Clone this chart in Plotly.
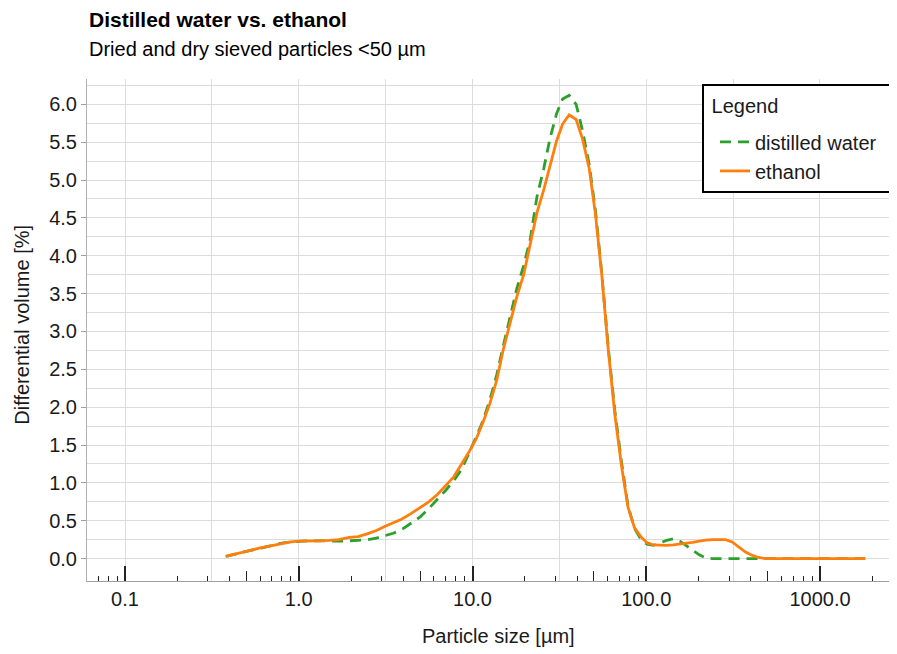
import plotly.graph_objects as go

# particle size bins [µm]
particle_size = [
    0.38, 0.45, 0.52, 0.6, 0.7, 0.8, 0.9, 1.0, 1.15, 1.3, 1.5, 1.7, 1.95,
    2.2, 2.5, 2.8, 3.1, 3.5, 3.9, 4.4, 5.0, 5.6, 6.3, 7.0, 7.8, 8.6, 9.5,
    10.5, 11.5, 12.6, 13.8, 15.0, 16.4, 18.0, 19.7, 21.5, 23.5, 25.7, 28.0,
    30.5, 33.0, 36.0, 39.5, 43.0, 47.0, 51.0, 55.5, 60.5, 66.0, 72.0, 78.5,
    85.5, 93.0, 101, 110, 120, 131, 143, 156, 170, 185, 202, 220, 240, 262,
    286, 312, 340, 371, 405, 442, 482, 526, 600, 800, 1100, 1500, 1820,
]

# differential volume [%]
distilled_water = [
    0.03, 0.07, 0.11, 0.145, 0.18, 0.205, 0.22, 0.23, 0.235, 0.235, 0.23,
    0.23, 0.235, 0.24, 0.25, 0.27, 0.30, 0.335, 0.38, 0.46, 0.55, 0.66,
    0.78, 0.90, 1.03, 1.17, 1.38, 1.60, 1.82, 2.10, 2.43, 2.80, 3.18, 3.57,
    3.87, 4.22, 4.78, 5.15, 5.56, 5.88, 6.07, 6.12, 6.00, 5.65, 5.20, 4.60,
    3.76, 2.78, 1.95, 1.28, 0.70, 0.40, 0.26, 0.19, 0.175, 0.21, 0.24, 0.26,
    0.23, 0.17, 0.11, 0.05, 0.01, 0.0, 0.0, 0.0, 0.0, 0.0, 0.0, 0.0, 0.0,
    0.0, 0.0, 0.0, 0.0, 0.0, 0.0, 0.0,
]
ethanol = [
    0.03, 0.07, 0.11, 0.14, 0.17, 0.20, 0.22, 0.23, 0.23, 0.235, 0.24, 0.25,
    0.28, 0.29, 0.33, 0.37, 0.42, 0.47, 0.52, 0.59, 0.67, 0.75, 0.85, 0.97,
    1.08, 1.24, 1.40, 1.58, 1.80, 2.05, 2.36, 2.75, 3.10, 3.46, 3.75, 4.18,
    4.57, 4.87, 5.18, 5.52, 5.74, 5.86, 5.80, 5.54, 5.15, 4.55, 3.74, 2.75,
    1.90, 1.23, 0.68, 0.41, 0.29, 0.21, 0.18, 0.175, 0.175, 0.18, 0.19, 0.205,
    0.215, 0.23, 0.245, 0.25, 0.25, 0.25, 0.22, 0.16, 0.09, 0.045, 0.015,
    0.0, 0.0, 0.0, 0.0, 0.0, 0.0, 0.0,
]

# axis ticks
decade_ticks = [0.1, 1, 10, 100, 1000]
decade_labels = ['0.1', '1.0', '10.0', '100.0', '1000.0']
half_decade_grid = [0.0316228, 0.316228, 3.16228, 31.6228, 316.228, 3162.28]
five_ticks = [0.05, 0.5, 5, 50, 500]
small_ticks = [
    0.06, 0.07, 0.08, 0.09, 0.2, 0.3, 0.4, 0.6, 0.7, 0.8, 0.9,
    2, 3, 4, 6, 7, 8, 9, 20, 30, 40, 60, 70, 80, 90,
    200, 300, 400, 600, 700, 800, 900, 2000, 3000,
]
y_ticks = [0.0, 0.5, 1.0, 1.5, 2.0, 2.5, 3.0, 3.5, 4.0, 4.5, 5.0, 5.5, 6.0]
y_minor = [0.25, 0.75, 1.25, 1.75, 2.25, 2.75, 3.25, 3.75, 4.25, 4.75,
           5.25, 5.75, 6.25]

FONT = 'Liberation Sans, Arial, sans-serif'
GRID = '#dcdcdc'
TICK = '#222222'
x_range = [-1.2187, 3.4317]

fig = go.Figure()
fig.add_trace(go.Scatter(
    x=particle_size, y=distilled_water, name='distilled water&nbsp;&nbsp;',
    mode='lines', line=dict(color='#2ca02c', width=2.8, dash='11px,7px')
))
fig.add_trace(go.Scatter(
    x=particle_size, y=ethanol, name='ethanol',
    mode='lines', line=dict(color='#ff7f0e', width=2.8)
))
# empty trace so the overlaid tick axis gets drawn
fig.add_trace(go.Scatter(
    x=[], y=[], xaxis='x2', showlegend=False, hoverinfo='skip'
))

fig.update_layout(
    width=889,
    height=646,
    margin=dict(l=79, r=2, t=71, b=73),
    plot_bgcolor='white',
    paper_bgcolor='white',
    font=dict(family=FONT, size=20, color='#1a1a1a'),
    showlegend=True,
    legend=dict(
        title=dict(
            text='<span style="font-size:20px;baseline-shift:9px">'
                 '&nbsp;Legend</span>',
            font=dict(size=28)),
        font=dict(size=20),
        bgcolor='white',
        bordercolor='#000000',
        borderwidth=2,
        indentation=11,
        x=1.0, xanchor='right',
        y=0.99, yanchor='top',
    ),
    xaxis=dict(
        type='log',
        range=x_range,
        tickmode='array',
        tickvals=decade_ticks,
        ticktext=decade_labels,
        ticks='inside',
        ticklen=15,
        tickwidth=1.5,
        tickcolor=TICK,
        showgrid=True,
        gridcolor=GRID,
        gridwidth=1.2,
        showline=True,
        linecolor='#a0a0a0',
        linewidth=1.2,
        zeroline=False,
        minor=dict(tickmode='array', tickvals=half_decade_grid,
                   showgrid=True, gridcolor=GRID, gridwidth=1.2, ticks=''),
    ),
    xaxis2=dict(
        type='log',
        range=x_range,
        overlaying='x',
        anchor='y',
        side='bottom',
        tickmode='array',
        tickvals=five_ticks,
        ticks='inside',
        ticklen=10,
        tickwidth=1.2,
        tickcolor=TICK,
        showticklabels=False,
        showgrid=False,
        showline=False,
        zeroline=False,
        minor=dict(tickmode='array', tickvals=small_ticks, ticks='inside',
                   ticklen=5, tickwidth=1.2, tickcolor=TICK,
                   showgrid=False),
    ),
    yaxis=dict(
        range=[-0.296, 6.335],
        tickmode='array',
        tickvals=y_ticks,
        ticktext=[f'{v:.1f}' for v in y_ticks],
        ticks='outside',
        ticklen=5,
        tickcolor='#a0a0a0',
        showgrid=True,
        gridcolor=GRID,
        gridwidth=1.2,
        showline=True,
        linecolor='#b0b0b0',
        linewidth=1,
        zeroline=False,
        minor=dict(tickmode='array', tickvals=y_minor, showgrid=True,
                   gridcolor=GRID, gridwidth=1.2, ticks=''),
    ),
    annotations=[
        dict(text='<b>Distilled water vs. ethanol</b>', xref='paper',
             yref='paper', x=0, y=1.1176, xanchor='left', yanchor='middle',
             showarrow=False, font=dict(size=21, color='#000000')),
        dict(text='Dried and dry sieved particles <50 µm', xref='paper',
             yref='paper', x=0, y=1.06, xanchor='left', yanchor='middle',
             showarrow=False, font=dict(size=20, color='#000000')),
        dict(text='Particle size [µm]', xref='paper', yref='paper',
             x=0.5087, y=-0.110, xanchor='center', yanchor='middle',
             showarrow=False, font=dict(size=20)),
        dict(text='Differential volume [%]', xref='paper', yref='paper',
             x=-0.0798, y=0.5097, xanchor='center', yanchor='middle',
             textangle=-90, showarrow=False, font=dict(size=20)),
    ],
)

fig.write_html('out.html')
